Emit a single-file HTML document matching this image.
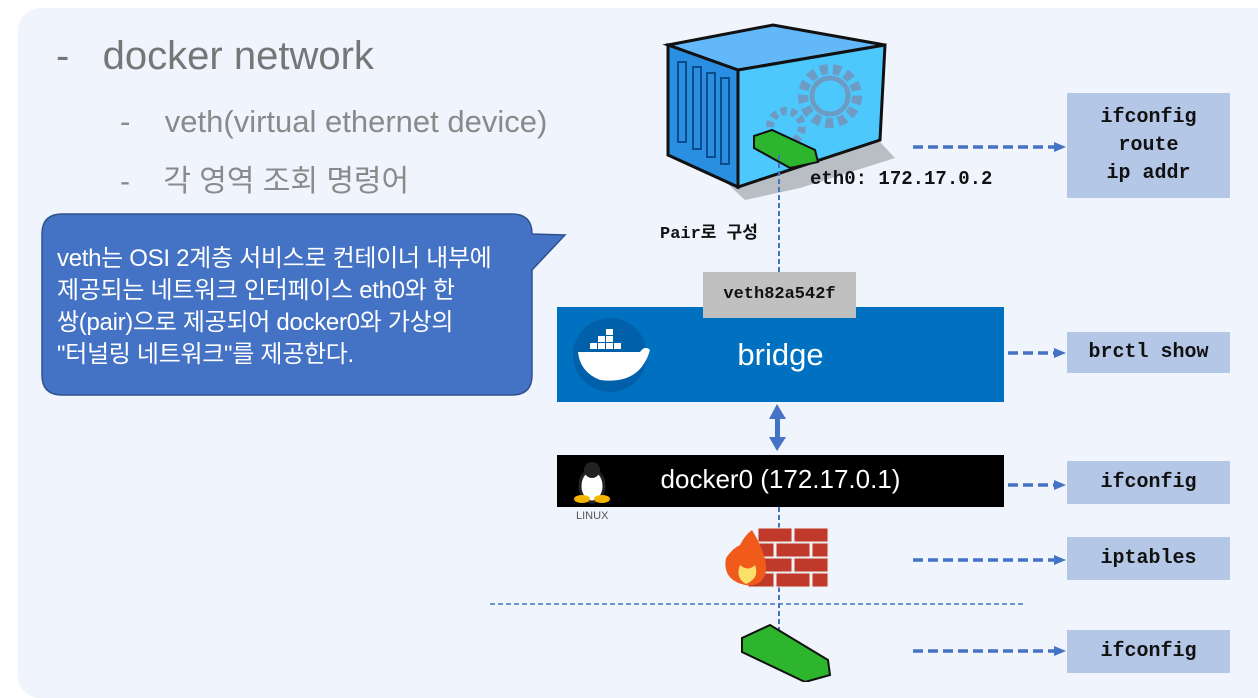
<!DOCTYPE html>
<html><head><meta charset="utf-8"><style>
body{margin:0;width:1258px;height:682px;background:#fff;position:relative;overflow:hidden;font-family:"Liberation Sans","Noto Sans CJK KR",sans-serif}
.a{position:absolute}
.mono{font-family:"Liberation Mono","Noto Sans CJK KR",monospace;font-weight:bold;color:#111}
.rb{position:absolute;background:#b4c7e7;left:1067px;width:163px;display:flex;align-items:center;justify-content:center;text-align:center;font-size:20px;line-height:28px}
</style></head><body>
<div class="a" style="left:18px;top:8px;width:1260px;height:690px;background:#eff4fd;border-radius:22px"></div>
<div class="a" style="left:56px;top:34px;font-size:40px;color:#767676">-&nbsp;&nbsp;&nbsp;docker network</div>
<div class="a" style="left:120px;top:104px;font-size:31px;color:#8a8a8a">-&nbsp;&nbsp;&nbsp;&nbsp;veth(virtual ethernet device)</div>
<div class="a" style="left:120px;top:156px;font-size:30px;color:#8a8a8a">-&nbsp;&nbsp;&nbsp;&nbsp;각 영역 조회 명령어</div>
<svg class="a" style="left:0;top:0" width="1258" height="682">
<path d="M62 214 H512 Q532 214 532 234 L565 235 L532 270 V375 Q532 395 512 395 H62 Q42 395 42 375 V234 Q42 214 62 214Z" fill="#4472c4" stroke="#2f528f" stroke-width="1.5"/>
<!-- container -->
<polygon points="700,158 745,200 800,188 895,158 880,142" fill="#b9bec4"/>
<polygon points="668,45 773,25 885,45 738,70" fill="#62b8f8" stroke="#111" stroke-width="3"/>
<polygon points="668,45 738,70 738,187 668,155" fill="#2a8fe0" stroke="#111" stroke-width="3"/>
<polygon points="738,70 885,45 880,140 738,187" fill="#4dc8fd" stroke="#111" stroke-width="3"/>
<g fill="none" stroke="#0a4c8c" stroke-width="2"><rect x="678" y="62" width="8" height="80"/><rect x="693" y="67" width="8" height="82"/><rect x="707" y="73" width="8" height="84"/><rect x="721" y="78" width="8" height="86"/></g>
<circle cx="830" cy="96" r="27" fill="none" stroke="#6e9bc3" stroke-width="10" stroke-dasharray="8 5"/>
<circle cx="830" cy="96" r="18" fill="none" stroke="#6e9bc3" stroke-width="5"/>
<circle cx="786" cy="127" r="16" fill="none" stroke="#6e9bc3" stroke-width="8" stroke-dasharray="6 4"/>
<polygon points="754,136 772,130 815,150 818,162 790,168 754,148" fill="#2db52d" stroke="#111" stroke-width="2"/>
<path d="M779 155 V275 M779 507 V630" stroke="#4472c4" stroke-width="2" stroke-dasharray="5 3"/>
<path d="M490 604 H1025" stroke="#4472c4" stroke-width="1.5" stroke-dasharray="5 3"/>
<g stroke="#4472c4" stroke-width="3.5" stroke-dasharray="10 5" fill="none">
<path d="M913 147 H1055"/><path d="M1008 353 H1055"/><path d="M1008 485 H1055"/><path d="M913 560 H1055"/><path d="M913 651 H1055"/></g>
<g fill="#4472c4"><polygon points="1066,147 1054,142 1054,152"/><polygon points="1066,353 1054,348 1054,358"/><polygon points="1066,485 1054,480 1054,490"/><polygon points="1066,560 1054,555 1054,565"/><polygon points="1066,651 1054,646 1054,656"/>
<rect x="775" y="415" width="5" height="26"/><polygon points="777,404 769,419 786,419"/><polygon points="777,451 769,437 786,437"/></g>
<rect x="557" y="307" width="447" height="95" fill="#0070c0"/>
<circle cx="610" cy="355" r="37" fill="#0061aa"/>
<path d="M578 352 H640 Q645 345 650 350 Q640 385 600 380 Q580 372 578 352Z" fill="#fff"/>
<g fill="#fff"><rect x="590" y="343" width="7" height="6"/><rect x="598" y="343" width="7" height="6"/><rect x="606" y="343" width="7" height="6"/><rect x="614" y="343" width="7" height="6"/><rect x="598" y="336" width="7" height="6"/><rect x="606" y="336" width="7" height="6"/><rect x="606" y="329" width="7" height="6"/></g>
<rect x="703" y="272" width="153" height="46" fill="#c0c0c0"/>
<rect x="557" y="455" width="447" height="52" fill="#000"/>
<ellipse cx="592" cy="486" rx="12" ry="16" fill="#fff" stroke="#222" stroke-width="3"/>
<circle cx="592" cy="470" r="8" fill="#222"/>
<ellipse cx="582" cy="499" rx="8" ry="4" fill="#f4b400"/><ellipse cx="602" cy="499" rx="8" ry="4" fill="#f4b400"/>
<g fill="#c0392b" stroke="#eee" stroke-width="1"><rect x="758" y="528" width="34" height="14"/><rect x="794" y="528" width="34" height="14"/><rect x="748" y="543" width="26" height="14"/><rect x="776" y="543" width="34" height="14"/><rect x="812" y="543" width="16" height="14"/><rect x="758" y="558" width="34" height="14"/><rect x="794" y="558" width="34" height="14"/><rect x="748" y="573" width="26" height="14"/><rect x="776" y="573" width="34" height="14"/><rect x="812" y="573" width="16" height="14"/></g>
<path d="M745 585 Q722 580 726 558 Q733 548 740 545 Q745 535 752 530 Q770 560 765 575 Q760 587 745 585Z" fill="#f05a1a"/>
<path d="M746 584 Q735 578 740 565 Q748 572 755 565 Q760 578 746 584Z" fill="#fde06a"/>
<polygon points="742,638 770,625 828,660 830,675 805,682 742,652" fill="#2db52d" stroke="#111" stroke-width="2"/>
</svg>
<div class="a" style="left:57px;top:243px;color:#fff;font-size:24px;line-height:32px;letter-spacing:-0.3px">veth는 OSI 2계층 서비스로 컨테이너 내부에<br>제공되는 네트워크 인터페이스 eth0와 한<br>쌍(pair)으로 제공되어 docker0와 가상의<br>"터널링 네트워크"를 제공한다.</div>
<div class="a mono" style="left:810px;top:168px;font-size:19px">eth0: 172.17.0.2</div>
<div class="a mono" style="left:660px;top:218px;font-size:17px">Pair로 구성</div>
<div class="a mono" style="left:703px;top:285px;width:153px;text-align:center;font-size:17px">veth82a542f</div>
<div class="a" style="left:557px;top:337px;width:447px;text-align:center;color:#fff;font-size:31px">bridge</div>
<div class="a" style="left:557px;top:464px;width:447px;text-align:center;color:#fff;font-size:26px">docker0 (172.17.0.1)</div>
<div class="a" style="left:576px;top:510px;font-size:11px;color:#555">LINUX</div>
<div class="rb mono" style="top:93px;height:105px">ifconfig<br>route<br>ip addr</div>
<div class="rb mono" style="top:332px;height:41px">brctl show</div>
<div class="rb mono" style="top:461px;height:43px">ifconfig</div>
<div class="rb mono" style="top:537px;height:43px">iptables</div>
<div class="rb mono" style="top:630px;height:43px">ifconfig</div>
</body></html>
